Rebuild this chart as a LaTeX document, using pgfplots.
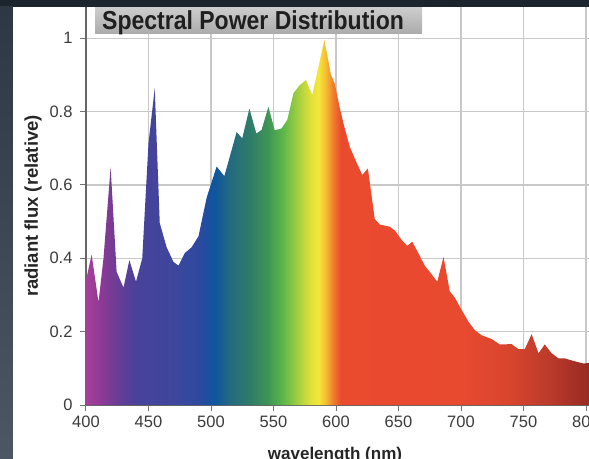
\documentclass[border=0pt]{standalone}
\usepackage{fontspec}
\setmainfont{Liberation Sans}
\usepackage{pgfplots}
\pgfplotsset{compat=1.18}

% spectrum colours, wavelength in the name
\definecolor{c400}{HTML}{A8409A}
\definecolor{c412}{HTML}{8C3A96}
\definecolor{c425}{HTML}{6A3C96}
\definecolor{c440}{HTML}{48429A}
\definecolor{c470}{HTML}{3E469C}
\definecolor{c492}{HTML}{2A4AA0}
\definecolor{c502}{HTML}{0E55A0}
\definecolor{c515}{HTML}{246A80}
\definecolor{c530}{HTML}{2E7A6A}
\definecolor{c545}{HTML}{3E9456}
\definecolor{c557}{HTML}{5AB64A}
\definecolor{c568}{HTML}{9ACC42}
\definecolor{c578}{HTML}{D8DE3A}
\definecolor{c586}{HTML}{F6E63A}
\definecolor{c592}{HTML}{F5BA32}
\definecolor{c598}{HTML}{EF7A2E}
\definecolor{c604}{HTML}{EA4A2E}
\definecolor{c700}{HTML}{E84A30}
\definecolor{c740}{HTML}{D8442E}
\definecolor{c770}{HTML}{BC3A2A}
\definecolor{c803}{HTML}{962A22}
\definecolor{bgdark}{HTML}{1C242E}
\definecolor{stripA}{HTML}{2E3842}
\definecolor{stripB}{HTML}{4C5762}
\definecolor{gridgray}{HTML}{C8C8C8}
\definecolor{labgray}{HTML}{3C3C3C}

% 400..803 nm mapped onto 25bp..75bp
\pgfdeclarehorizontalshading{spectrum}{100bp}{%
  color(0bp)=(c400); color(25bp)=(c400); color(26.49bp)=(c412);
  color(28.10bp)=(c425); color(29.96bp)=(c440); color(33.68bp)=(c470);
  color(36.41bp)=(c492); color(37.66bp)=(c502); color(39.27bp)=(c515);
  color(41.13bp)=(c530); color(42.99bp)=(c545); color(44.48bp)=(c557);
  color(45.84bp)=(c568); color(47.08bp)=(c578); color(48.08bp)=(c586);
  color(48.82bp)=(c592); color(49.57bp)=(c598); color(50.31bp)=(c604);
  color(62.22bp)=(c700); color(67.18bp)=(c740); color(70.91bp)=(c770);
  color(75bp)=(c803); color(100bp)=(c803)}

\begin{document}
\begin{tikzpicture}
\useasboundingbox (-86pt,-53pt) rectangle (503pt,405pt);
\begin{scope}
\clip (-86pt,-53pt) rectangle (503pt,405pt);
% dark frame and white panel
\fill[bgdark] (-86pt,-53pt) rectangle (503pt,405pt);
\shade[top color=stripA, bottom color=stripB] (-86pt,-53pt) rectangle (-73pt,398pt);
\fill[white] (-73pt,-53pt) rectangle (503pt,398pt);

\begin{axis}[
  at={(0pt,0pt)}, anchor=south west,
  scale only axis,
  width=503pt, height=398pt,
  xmin=400, xmax=802.4,
  ymin=0, ymax=1.085,
  axis lines=left,
  axis line style={-, draw=black!60, line width=1.2pt},
  tick align=outside,
  major tick length=6pt,
  tick style={draw=black!55, line width=1pt},
  xtick={400,450,...,800},
  ytick={0,0.2,0.4,0.6,0.8,1},
  grid=major,
  grid style={gridgray, line width=1.3pt},
  /pgf/number format/assume math mode=true,
  ticklabel style={font=\fontsize{16.5}{18}\selectfont, text=labgray},
  yticklabel style={xshift=-4pt},
  xticklabel style={yshift=-1pt},
  xlabel={wavelength (nm)},
  xlabel style={font=\fontsize{17}{19}\selectfont\bfseries, text=black!85,
    at={(axis description cs:0.495,-0.1357)}, anchor=base},
  ylabel={radiant flux (relative)},
  ylabel style={font=\fontsize{18.5}{20}\selectfont\bfseries, text=black!85,
    at={(axis description cs:-0.1054,0.5)}, anchor=center},
]
\addplot[draw=none, shading=spectrum] coordinates {
  (400,0.34) (404.5,0.41) (410,0.28) (414,0.40) (419.7,0.648)
  (424.5,0.363) (430,0.32) (434.7,0.395) (440,0.336) (445,0.40)
  (450,0.714) (455,0.863) (459,0.496) (464.5,0.43) (470,0.39)
  (474,0.38) (479,0.414) (484.5,0.43) (490,0.46) (496.5,0.565)
  (504.5,0.65) (510.7,0.624) (520.5,0.744) (525,0.727) (530.7,0.808)
  (536.3,0.74) (540.5,0.75) (545.9,0.813) (551,0.749) (556.5,0.754)
  (561,0.777) (566,0.85) (571,0.872) (576,0.886) (581,0.845)
  (590.7,0.995) (596,0.90) (599,0.876) (603,0.81) (606,0.767)
  (611,0.704) (615,0.672) (621,0.627) (625.5,0.645) (631,0.507)
  (635,0.492) (643,0.486) (647,0.476) (652.5,0.45) (657,0.434)
  (661,0.445) (666,0.413) (671,0.38) (675,0.363) (681,0.336)
  (686,0.404) (691,0.31) (695,0.293) (700.5,0.259) (706,0.227)
  (711,0.204) (716.5,0.19) (724.5,0.18) (731,0.165) (740.5,0.166)
  (746,0.152) (751,0.152) (756.5,0.193) (762,0.141) (767,0.165)
  (772.5,0.141) (778,0.127) (783,0.127) (790,0.12) (798,0.113)
  (803,0.115)
} \closedcycle;
\end{axis}

% title box
\shade[top color=black!20, bottom color=black!33] (9pt,371pt) rectangle (336pt,397pt);
\node[anchor=base west, inner sep=0pt, text=black!88] at (16pt,375pt)
  {\scalebox{0.885}[1]{\fontsize{26}{28}\selectfont\bfseries Spectral Power Distribution}};
\end{scope}
\end{tikzpicture}
\end{document}
